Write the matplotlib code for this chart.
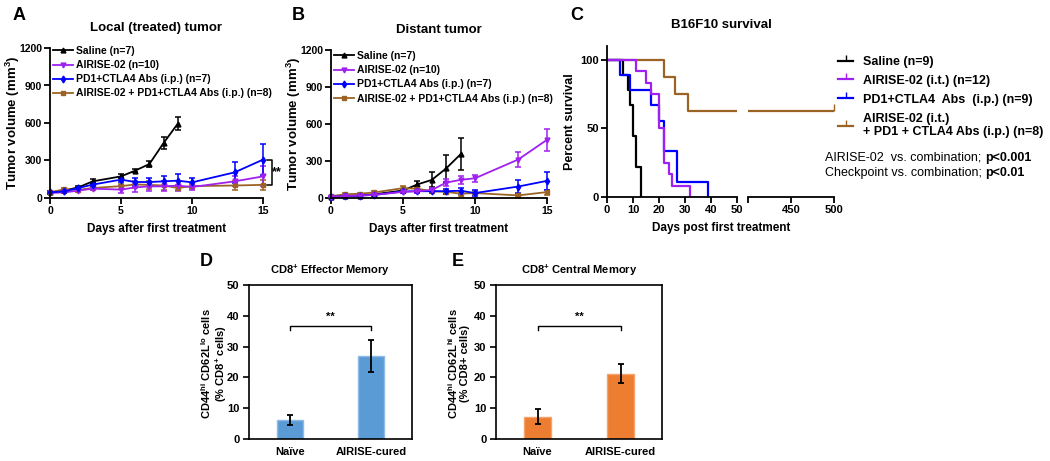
import matplotlib
matplotlib.use('Agg')
import matplotlib.pyplot as plt
from matplotlib.lines import Line2D
import numpy as np

plt.rcParams['font.family'] = ['Liberation Sans', 'DejaVu Sans']
plt.rcParams['font.weight'] = 'bold'
plt.rcParams['axes.labelweight'] = 'bold'
plt.rcParams['axes.titleweight'] = 'bold'
plt.rcParams['mathtext.fontset'] = 'custom'
plt.rcParams['mathtext.rm'] = 'Liberation Sans:bold'
plt.rcParams['mathtext.bf'] = 'Liberation Sans:bold'
plt.rcParams['mathtext.it'] = 'Liberation Sans:bold:italic'

W, H = 1050, 461

# ---- data : tumour growth (A, B)
days_saline = [0, 1, 2, 3, 5, 6, 7, 8, 9]
days_treat = [0, 1, 2, 3, 5, 6, 7, 8, 9, 10, 13, 15]

local_saline = [45, 60, 85, 133, 173, 219, 272, 440, 595]
local_saline_err = [10, 10, 12, 20, 15, 12, 25, 50, 55]
local_airise = [40, 45, 59, 75, 67, 85, 93, 93, 99, 88, 133, 173]
local_airise_err = [8, 8, 10, 12, 25, 35, 35, 40, 40, 25, 40, 80]
local_pd1 = [45, 53, 80, 107, 147, 128, 128, 133, 139, 125, 205, 307]
local_pd1_err = [8, 8, 10, 15, 20, 30, 30, 40, 50, 35, 85, 125]
local_combo = [45, 70, 65, 80, 95, 108, 105, 100, 80, 95, 100, 105]
local_combo_err = [8, 10, 10, 15, 20, 25, 30, 35, 20, 25, 35, 40]

dist_saline = [10, 15, 20, 30, 61, 110, 147, 240, 355]
dist_saline_err = [5, 5, 6, 8, 12, 30, 60, 110, 130]
dist_airise = [10, 15, 20, 25, 50, 55, 65, 125, 147, 160, 312, 472]
dist_airise_err = [5, 5, 6, 8, 10, 12, 15, 25, 30, 30, 60, 90]
dist_pd1 = [10, 15, 20, 25, 53, 55, 55, 55, 59, 40, 93, 139]
dist_pd1_err = [5, 5, 6, 8, 10, 12, 15, 20, 25, 25, 50, 75]
dist_combo = [15, 30, 35, 45, 80, 75, 55, 50, 35, 40, 21, 48]
dist_combo_err = [5, 8, 8, 10, 15, 15, 15, 15, 15, 15, 15, 20]

# ---- data : survival (C)
surv_saline_t = [0, 6, 8, 9, 10, 11, 13]
surv_saline_s = [100, 88.9, 77.8, 66.7, 44.4, 22.2, 0]
surv_airise_t = [0, 11, 15, 17, 20, 22, 24, 25, 32]
surv_airise_s = [100, 91.7, 83.3, 75, 50, 25, 16.7, 8.3, 0]
surv_pd1_t = [0, 5, 9, 17, 20, 22, 27, 39]
surv_pd1_s = [100, 88.9, 77.8, 66.7, 55.6, 33.3, 11.1, 0]
surv_combo_t = [0, 22, 26, 31, 500]
surv_combo_s = [100, 87.5, 75, 62.5, 62.5]

# ---- data : memory T cells (D, E)
groups = ['Naïve', 'AIRISE-cured']
em_values = [6.2, 27.0]
em_err = [1.6, 5.2]
cm_values = [7.3, 21.2]
cm_err = [2.3, 3.0]

c_sal, c_air, c_pd1, c_combo = 'black', '#A020F0', '#0000FF', '#9C6424'
labels_ab = ['Saline (n=7)', 'AIRISE-02 (n=10)', 'PD1+CTLA4 Abs (i.p.) (n=7)',
             'AIRISE-02 + PD1+CTLA4 Abs (i.p.) (n=8)']
colors_ab = [c_sal, c_air, c_pd1, c_combo]
markers_ab = ['^', 'v', 'd', 's']

fig = plt.figure(figsize=(W / 100, H / 100), dpi=100)


def box(left, top, right, bottom):
    return [left / W, 1 - bottom / H, (right - left) / W, (bottom - top) / H]


def style_axes(ax, labelsize=8, pad=2):
    for s in ['top', 'right']:
        ax.spines[s].set_visible(False)
    for s in ['left', 'bottom']:
        ax.spines[s].set_linewidth(1.3)
    ax.tick_params(width=1.3, length=4, labelsize=labelsize, pad=pad)


def tumor_panel(ax, series, title, legend_top):
    # series: (days, values, errors, index into labels/colours/markers), in drawing order
    for days, vals, errs, i in series:
        cont = ax.errorbar(days, vals, yerr=errs, color=colors_ab[i], marker=markers_ab[i], ms=3.5,
                           lw=1.3, elinewidth=1.1, capsize=2.5, capthick=1.1, clip_on=False)
        for a in cont.lines[1] + cont.lines[2]:
            a.set_clip_on(False)
    ax.set_xlim(0, 15)
    ax.set_ylim(0, 1200)
    ax.set_xticks([0, 5, 10, 15])
    ax.set_yticks([0, 300, 600, 900, 1200])
    style_axes(ax, labelsize=7.5, pad=1.5)
    ax.set_title(title, fontsize=9.5, pad=12)
    ax.set_xlabel('Days after first treatment', fontsize=8.5, labelpad=5)
    ax.set_ylabel(r'Tumor volume (mm$^{\mathbf{3}}$)', fontsize=9.5)
    ax.yaxis.set_label_coords(-28 / (ax.get_position().width * W), 0.5)
    handles = [Line2D([], [], color=c, marker=m, ms=3.5, lw=1.3) for c, m in zip(colors_ab, markers_ab)]
    pos = ax.get_position()
    ax.legend(handles, labels_ab, loc='upper left', frameon=False, fontsize=7.5,
              bbox_to_anchor=(pos.x0 + 3 / W, legend_top), bbox_transform=fig.transFigure,
              borderaxespad=0, borderpad=0, handlelength=1.9, handletextpad=0.35,
              labelspacing=0.4)


# ---- A
ax_a = fig.add_axes(box(50, 48, 263, 198))
tumor_panel(ax_a, [
    (days_saline, local_saline, local_saline_err, 0),
    (days_treat, local_combo, local_combo_err, 3),
    (days_treat, local_airise, local_airise_err, 1),
    (days_treat, local_pd1, local_pd1_err, 2),
], 'Local (treated) tumor', 1 - 46 / H)
# significance bracket
ax_a.plot([15.25, 15.6, 15.6, 15.25], [local_pd1[-1], local_pd1[-1], local_combo[-1], local_combo[-1]],
          color='black', lw=1.1, clip_on=False)
ax_a.text(15.62, (local_pd1[-1] + local_combo[-1]) / 2, '**', fontsize=9, va='center', ha='left')

# ---- B
ax_b = fig.add_axes(box(331, 50, 547, 198))
tumor_panel(ax_b, [
    (days_saline, dist_saline, dist_saline_err, 0),
    (days_treat, dist_combo, dist_combo_err, 3),
    (days_treat, dist_pd1, dist_pd1_err, 2),
    (days_treat, dist_airise, dist_airise_err, 1),
], 'Distant tumor', 1 - 51 / H)

# ---- C  (broken x axis)
ax_c1 = fig.add_axes(box(607, 46, 737, 197))
ax_c2 = fig.add_axes(box(748, 46, 834, 197))
surv = [
    (surv_combo_t, surv_combo_s, c_combo),
    (surv_saline_t, surv_saline_s, c_sal),
    (surv_pd1_t, surv_pd1_s, c_pd1),
    (surv_airise_t, surv_airise_s, c_air),
]
for ax in (ax_c1, ax_c2):
    for t, s, c in surv:
        ax.step(t, s, where='post', color=c, lw=1.6)
    ax.set_ylim(0, 110)
    style_axes(ax)
ax_c1.set_xlim(0, 50)
ax_c1.set_xticks([0, 10, 20, 30, 40, 50])
ax_c1.set_yticks([0, 50, 100])
ax_c1.set_ylabel('Percent survival', fontsize=9, labelpad=3)
ax_c2.set_xlim(400, 500)
ax_c2.set_xticks([400, 450, 500])
ax_c2.set_xticklabels(['', '450', '500'])
ax_c2.spines['left'].set_visible(False)
ax_c2.set_yticks([])
ax_c2.plot([surv_combo_t[-1]], [surv_combo_s[-1]], marker=2, ms=5, color=c_combo, clip_on=False)
fig.text(721 / W, 1 - 25 / H, 'B16F10 survival', fontsize=9.5, ha='center', va='center')
fig.text(721 / W, 1 - 228 / H, 'Days post first treatment', fontsize=8.5, ha='center', va='center')

c_handles = [Line2D([], [], color=c, lw=1.6, marker=2, ms=4) for c in (c_sal, c_air, c_pd1, c_combo)]
c_labels = ['Saline (n=9)', 'AIRISE-02 (i.t.) (n=12)', 'PD1+CTLA4  Abs  (i.p.) (n=9)',
            'AIRISE-02 (i.t.)\n+ PD1 + CTLA4 Abs (i.p.) (n=8)']
ax_c2.legend(c_handles, c_labels, loc='upper left', frameon=False, fontsize=9,
             bbox_to_anchor=(838 / W, 1 - 56 / H), bbox_transform=fig.transFigure,
             borderaxespad=0, borderpad=0, handlelength=1.2, handletextpad=0.8,
             labelspacing=0.55, numpoints=1)

t1 = fig.text(825 / W, 1 - 158 / H, 'AIRISE-02  vs. combination; ', fontsize=9,
              fontweight='normal', va='center')
ax_c2.annotate('p<0.001', xy=(1, 0.5), xycoords=t1, fontsize=9, va='center', ha='left',
               annotation_clip=False)
t2 = fig.text(825 / W, 1 - 173 / H, 'Checkpoint vs. combination; ', fontsize=9,
              fontweight='normal', va='center')
ax_c2.annotate('p<0.01', xy=(1, 0.5), xycoords=t2, fontsize=9, va='center', ha='left',
               annotation_clip=False)


# ---- D, E
def bar_panel(ax, values, errs, color, edge, title):
    x = np.arange(len(groups))
    ax.bar(x, values, width=0.32, color=color, edgecolor=edge, lw=1)
    ax.errorbar(x, values, yerr=errs, fmt='none', ecolor='black', elinewidth=1.3,
                capsize=2.5, capthick=1.3)
    ax.set_xlim(-0.5, 1.5)
    ax.set_ylim(0, 50)
    ax.set_yticks(range(0, 51, 10))
    ax.set_xticks(x)
    ax.set_xticklabels(groups)
    for s in ax.spines.values():
        s.set_linewidth(1.2)
    ax.tick_params(axis='y', width=1.2, length=4, labelsize=8, pad=3)
    ax.tick_params(axis='x', length=0, labelsize=8, pad=6)
    ax.set_title(title, fontsize=8, pad=8)
    ax.plot([0, 0, 1, 1], [35.3, 36.8, 36.8, 35.3], color='black', lw=1)
    ax.text(0.5, 39.6, '**', ha='center', va='center', fontsize=8)


ax_d = fig.add_axes(box(249, 285, 412, 439))
bar_panel(ax_d, em_values, em_err, '#5B9BD5', '#8DBBE6', r'CD8$^{\mathbf{+}}$ Effector Memory')
fig.text(214 / W, 1 - 364 / H, 'CD44$^{\\mathbf{hi}}$ CD62L$^{\\mathbf{lo}}$ cells\n(% CD8$^{\\mathbf{+}}$ cells)',
         rotation=90, ha='center', va='center', fontsize=8, multialignment='center', linespacing=1.05)

ax_e = fig.add_axes(box(496, 285, 662, 439))
bar_panel(ax_e, cm_values, cm_err, '#ED7D31', '#F4A46C', r'CD8$^{\mathbf{+}}$ Central Memory')
fig.text(458 / W, 1 - 364 / H, 'CD44$^{\\mathbf{hi}}$ CD62L$^{\\mathbf{hi}}$ cells\n(% CD8+ cells)',
         rotation=90, ha='center', va='center', fontsize=8, multialignment='center', linespacing=1.05)

# ---- panel letters
for letter, (px, py) in zip('ABCDE', [(19, 15), (298, 15), (577, 15), (206, 262), (458, 262)]):
    fig.text(px / W, 1 - py / H, letter, fontsize=13, ha='center', va='center')

fig.savefig('out.png', dpi=100)
